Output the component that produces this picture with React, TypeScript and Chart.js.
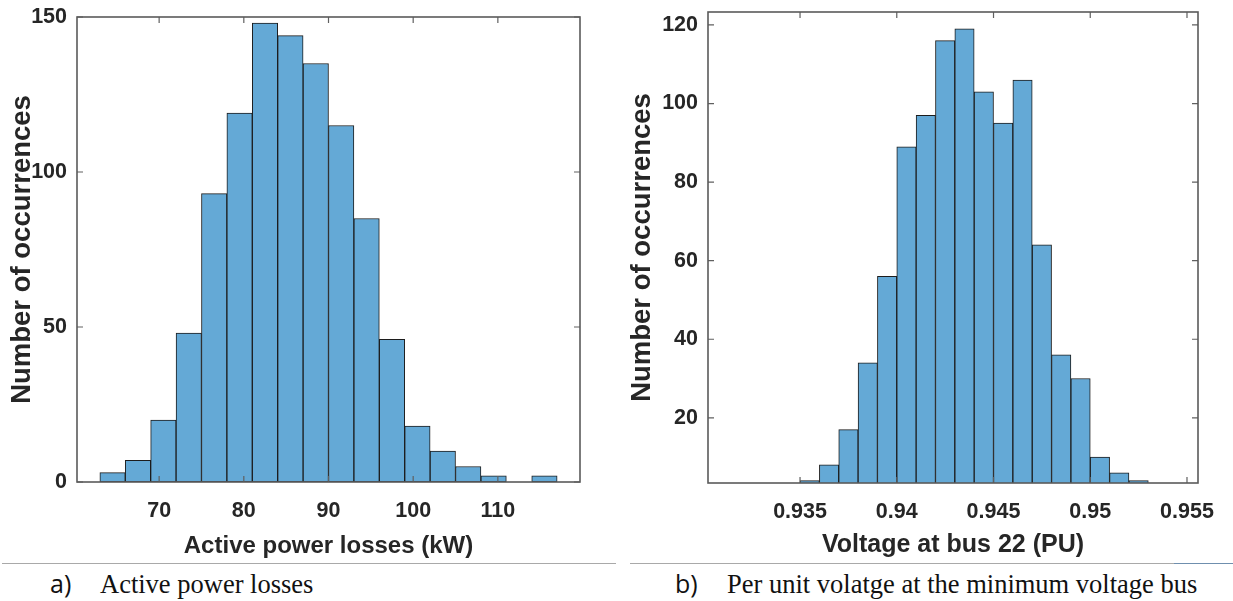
import React, { useEffect, useRef } from "react";
import { Chart, registerables } from "chart.js";

Chart.register(...registerables);

// ---------- data ----------
const lossBinEdges = [63, 66, 69, 72, 75, 78, 81, 84, 87, 90, 93, 96, 99, 102, 105, 108, 111, 114, 117];
const lossCounts = [3, 7, 20, 48, 93, 119, 148, 144, 135, 115, 85, 46, 18, 10, 5, 2, 0, 2];
const lossXTicks = [70, 80, 90, 100, 110];
const lossYTicks = [0, 50, 100, 150];

const voltBinEdges = [0.935, 0.936, 0.937, 0.938, 0.939, 0.94, 0.941, 0.942, 0.943, 0.944, 0.945, 0.946, 0.947, 0.948, 0.949, 0.95, 0.951, 0.952, 0.953];
const voltCounts = [4, 8, 17, 34, 56, 89, 97, 116, 119, 103, 95, 106, 64, 36, 30, 10, 6, 4];
const voltXTicks = [0.935, 0.94, 0.945, 0.95, 0.955];
const voltYTicks = [20, 40, 60, 80, 100, 120];

const captionA = { tag: "a)", text: "Active power losses" };
const captionB = { tag: "b)", text: "Per unit volatge at the minimum voltage bus" };

// ---------- styles ----------
const FONT = "'Liberation Sans', Arial, Helvetica, sans-serif";
const TEXT = "#262626";
const BAR_FILL = "rgb(100,169,214)";
const BAR_EDGE = "#1c1c1c";

const matlabAxes = {
  id: "matlabAxes",
  afterDatasetsDraw(chart: any) {
    const { ctx, chartArea: a, scales } = chart;
    const x = scales.x;
    const y = scales.y;
    ctx.save();
    ctx.strokeStyle = "#606060";
    ctx.lineWidth = 1.2;
    const len = 6;
    ctx.beginPath();
    x.ticks.forEach((t: any) => {
      const px = x.getPixelForValue(t.value);
      ctx.moveTo(px, a.bottom);
      ctx.lineTo(px, a.bottom - len);
      ctx.moveTo(px, a.top);
      ctx.lineTo(px, a.top + len);
    });
    y.ticks.forEach((t: any) => {
      const py = y.getPixelForValue(t.value);
      ctx.moveTo(a.left, py);
      ctx.lineTo(a.left + len, py);
      ctx.moveTo(a.right, py);
      ctx.lineTo(a.right - len, py);
    });
    ctx.stroke();
    ctx.lineWidth = 1.6;
    ctx.strokeStyle = "#5a5a5a";
    ctx.strokeRect(a.left, a.top, a.right - a.left, a.bottom - a.top);
    ctx.restore();
  },
};

type Cfg = {
  edges: number[];
  counts: number[];
  xTicks: number[];
  yTicks: number[];
  xMin: number;
  xMax: number;
  yMin: number;
  yMax: number;
  xTitle: string;
  yTitle: string;
  yWidth: number;
  xHeight: number;
  padTop: number;
  padRight: number;
  yTitlePad: number;
  tickFont: number;
  xTitleFont: number;
  yTitleFont: number;
};

function makeConfig(c: Cfg): any {
  const data = c.counts.map((v, i) => ({ x: (c.edges[i] + c.edges[i + 1]) / 2, y: v }));
  const tickFont = { family: FONT, size: c.tickFont, weight: "bold" as const };
  return {
    type: "bar",
    data: {
      datasets: [
        {
          data,
          backgroundColor: BAR_FILL,
          borderColor: BAR_EDGE,
          borderWidth: 1,
          borderSkipped: false,
          barPercentage: 1,
          categoryPercentage: 1,
          clip: 0,
        },
      ],
    },
    options: {
      responsive: false,
      animation: false,
      layout: { padding: { left: 0, right: c.padRight, top: c.padTop, bottom: 0 } },
      plugins: { legend: { display: false }, tooltip: { enabled: false } },
      scales: {
        x: {
          type: "linear",
          min: c.xMin,
          max: c.xMax,
          offset: false,
          grid: { display: false, drawTicks: false },
          border: { display: false },
          afterBuildTicks: (s: any) => {
            s.ticks = c.xTicks.map((v) => ({ value: v }));
          },
          afterFit: (s: any) => {
            s.height = c.xHeight;
            s.paddingLeft = 0;
            s.paddingRight = 0;
            s.paddingTop = 0;
            s.paddingBottom = 0;
          },
          ticks: {
            font: tickFont,
            color: TEXT,
            padding: 16,
            maxRotation: 0,
            autoSkip: false,
            callback: (v: any) => String(v),
          },
          title: {
            display: true,
            text: c.xTitle,
            color: TEXT,
            font: { family: FONT, size: c.xTitleFont, weight: "bold", lineHeight: 1 },
            padding: { top: 0, bottom: 2 },
          },
        },
        y: {
          type: "linear",
          min: c.yMin,
          max: c.yMax,
          grid: { display: false, drawTicks: false },
          border: { display: false },
          afterBuildTicks: (s: any) => {
            s.ticks = c.yTicks.map((v) => ({ value: v }));
          },
          afterFit: (s: any) => {
            s.width = c.yWidth;
            s.paddingLeft = 0;
            s.paddingRight = 0;
            s.paddingTop = 0;
            s.paddingBottom = 0;
          },
          ticks: {
            font: tickFont,
            color: TEXT,
            padding: 10,
            autoSkip: false,
            callback: (v: any) => String(v),
          },
          title: {
            display: true,
            text: c.yTitle,
            color: TEXT,
            font: { family: FONT, size: c.yTitleFont, weight: "bold", lineHeight: 1 },
            padding: { top: c.yTitlePad, bottom: 0 },
          },
        },
      },
    },
    plugins: [matlabAxes],
  };
}

function Hist({ cfg, width, height }: { cfg: Cfg; width: number; height: number }) {
  const ref = useRef<HTMLCanvasElement | null>(null);
  useEffect(() => {
    if (!ref.current) return;
    const chart = new Chart(ref.current, makeConfig(cfg));
    return () => chart.destroy();
  }, []);
  return <canvas ref={ref} width={width} height={height} style={{ width, height, display: "block" }} />;
}

const leftCfg: Cfg = {
  edges: lossBinEdges,
  counts: lossCounts,
  xTicks: lossXTicks,
  yTicks: lossYTicks,
  xMin: 60.3,
  xMax: 119.7,
  yMin: 0,
  yMax: 150,
  xTitle: "Active power losses (kW)",
  yTitle: "Number of occurrences",
  yWidth: 77,
  xHeight: 78,
  padTop: 17,
  padRight: 20,
  yTitlePad: 9,
  tickFont: 21.5,
  xTitleFont: 24,
  yTitleFont: 27.5,
};

const rightCfg: Cfg = {
  edges: voltBinEdges,
  counts: voltCounts,
  xTicks: voltXTicks,
  yTicks: voltYTicks,
  xMin: 0.930243,
  xMax: 0.955569,
  yMin: 3.4,
  yMax: 123.3,
  xTitle: "Voltage at bus 22 (PU)",
  yTitle: "Number of occurrences",
  yWidth: 93,
  xHeight: 77,
  padTop: 12,
  padRight: 35,
  yTitlePad: 14,
  tickFont: 21.5,
  xTitleFont: 25,
  yTitleFont: 27.5,
};

const sansCap: React.CSSProperties = {
  position: "absolute",
  top: 571,
  fontFamily: "'Open Sans', 'Noto Sans', sans-serif",
  fontSize: 25,
  lineHeight: "25px",
  color: "#111",
  whiteSpace: "nowrap",
};
const serifCap: React.CSSProperties = {
  position: "absolute",
  top: 571,
  fontFamily: "'Liberation Serif', 'Times New Roman', serif",
  fontSize: 26.5,
  lineHeight: "26.5px",
  color: "#111",
  whiteSpace: "nowrap",
};

export default function App() {
  return (
    <div
      style={{
        position: "absolute",
        left: 0,
        top: 0,
        width: 1233,
        height: 601,
        background: "#fff",
        overflow: "hidden",
      }}
    >
      <div style={{ position: "absolute", left: 0, top: 0 }}>
        <Hist cfg={leftCfg} width={600} height={560} />
      </div>
      <div style={{ position: "absolute", left: 615, top: 0 }}>
        <Hist cfg={rightCfg} width={618} height={560} />
      </div>
      <div style={{ position: "absolute", left: 2, top: 563, width: 614, borderTop: "1.5px solid #a9a9a9" }} />
      <div style={{ position: "absolute", left: 630, top: 563, width: 544, borderTop: "1.5px solid #a9a9a9" }} />
      <div style={{ position: "absolute", left: 1174, top: 563, width: 59, borderTop: "1.5px solid #6f8fae" }} />
      <span style={{ ...sansCap, left: 50 }}>{captionA.tag}</span>
      <span style={{ ...serifCap, left: 100 }}>{captionA.text}</span>
      <span style={{ ...sansCap, left: 675 }}>{captionB.tag}</span>
      <span style={{ ...serifCap, left: 727 }}>{captionB.text}</span>
    </div>
  );
}
